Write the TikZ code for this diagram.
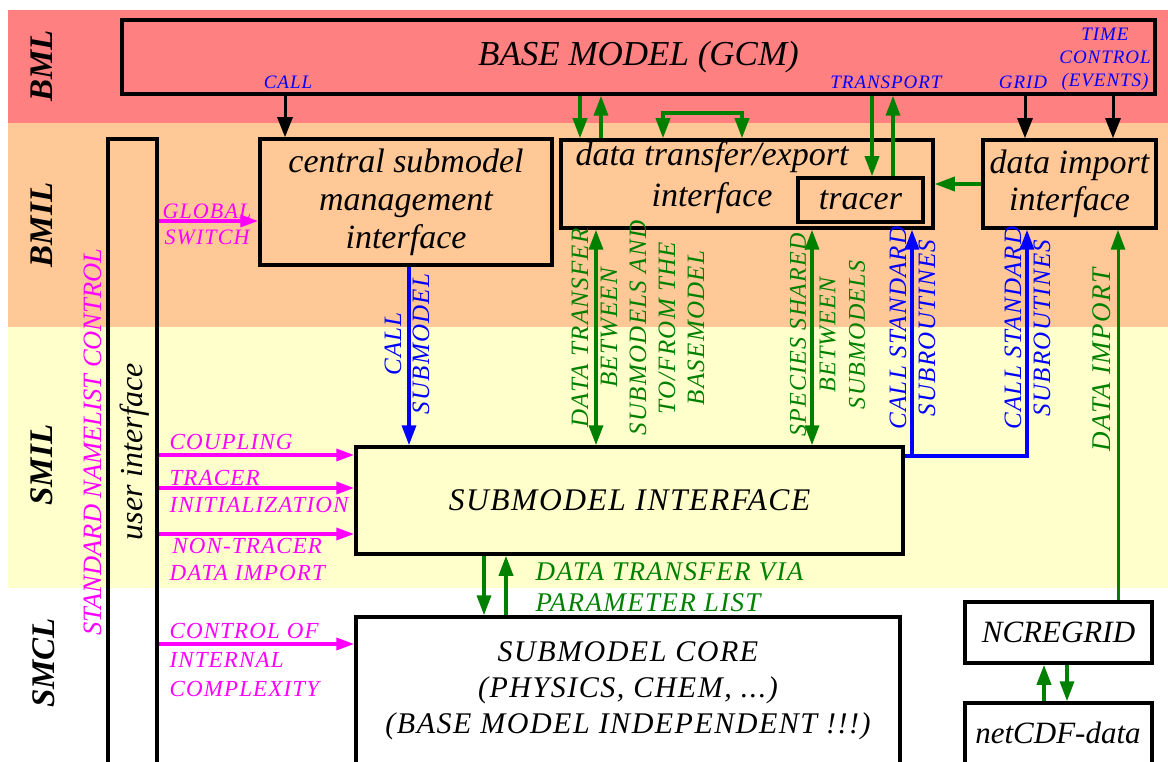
\documentclass[tikz,border=0pt]{standalone}
\usepackage{fontspec}
\setmainfont{Liberation Serif}
\newfontfamily\capsfont[LetterSpace=5]{Liberation Serif}
\usetikzlibrary{arrows.meta}

\definecolor{bmlred}{RGB}{255,128,128}
\definecolor{bmilorange}{RGB}{255,200,150}
\definecolor{smilyellow}{RGB}{255,255,204}
\definecolor{linkgreen}{RGB}{0,128,0}
\definecolor{linkblue}{RGB}{0,0,255}
\definecolor{ctrlmagenta}{RGB}{255,0,255}

\begin{document}
\begin{tikzpicture}[x=1pt,y=-1pt]

% Define styles
\tikzstyle{layername}=[rotate=90, font=\fontsize{33}{40}\selectfont\bfseries\itshape]
\tikzstyle{module}=[draw, line width=3.5pt, inner sep=0pt, align=center, font=\fontsize{34}{38}\selectfont\itshape]
\tikzstyle{modtext}=[align=center, font=\fontsize{34}{38}\selectfont\itshape]
\tikzstyle{smallcaps}=[align=center, font=\capsfont\fontsize{19}{23}\selectfont\itshape, text=linkblue]
\tikzstyle{ctrltext}=[align=left, anchor=west, text=ctrlmagenta, font=\capsfont\fontsize{23}{27}\selectfont\itshape]
\tikzstyle{flowtext}=[align=center, rotate=90, font=\capsfont\fontsize{25}{29}\selectfont\itshape]
\tikzstyle{blkflow}=[line width=3pt, -{Triangle[length=20pt,width=15pt]}]
\tikzstyle{grnflow}=[linkgreen, line width=3.5pt, -{Triangle[length=20pt,width=14pt]}]
\tikzstyle{grnboth}=[grnflow, {Triangle[length=20pt,width=14pt]}-{Triangle[length=20pt,width=14pt]}]
\tikzstyle{bluflow}=[linkblue, line width=3.5pt, -{Triangle[length=20pt,width=14pt]}]
\tikzstyle{magflow}=[ctrlmagenta, line width=3.5pt, -{Triangle[length=18pt,width=12pt]}]

% Parameters
\def\bandleft{8}
\def\bandright{1168}

\useasboundingbox (0,0) rectangle (1168,762);

% Layer bands
\fill[bmlred] (\bandleft,10) rectangle (\bandright,123);
\fill[bmilorange] (\bandleft,123) rectangle (\bandright,327);
\fill[smilyellow] (\bandleft,327) rectangle (\bandright,588);

\node[layername] (bmllbl) at (42,66) {BML};
\node[layername] (bmillbl) at (42,225) {BMIL};
\node[layername] (smillbl) at (42,465) {SMIL};
\node[layername] (smcllbl) at (44,663) {SMCL};

% Modules
\node[module, minimum width=1033pt, minimum height=74pt, font=\fontsize{35}{40}\selectfont\itshape] (base) at (638.5,57) {BASE MODEL (GCM)};
\node[module, minimum width=292pt, minimum height=126pt] (central) at (406,202) {central submodel\\management\\interface};
\node[module, minimum width=372pt, minimum height=88pt] (datatr) at (747,184) {};
\node[modtext, font=\fontsize{34}{41}\selectfont\itshape] (datatrtxt) at (712,178) {data transfer/export\\interface};
\node[module, minimum width=125pt, minimum height=44pt] (tracer) at (860.5,200) {tracer};
\node[module, minimum width=173pt, minimum height=88pt, font=\fontsize{34}{37}\selectfont\itshape] (dataimp) at (1069.5,184) {data import\\interface};
\node[module, minimum width=49pt, minimum height=641pt] (ui) at (132.5,459.5) {};
\node[modtext, rotate=90, font=\fontsize{32}{38}\selectfont\itshape] (uitxt) at (135,452) {user interface};
\node[module, minimum width=547pt, minimum height=107pt, font=\capsfont\fontsize{31.5}{36}\selectfont\itshape] (smi) at (629.5,500.5) {SUBMODEL INTERFACE};
\node[module, minimum width=544pt, minimum height=163pt] (smc) at (628,698.5) {};
\node[modtext, font=\capsfont\fontsize{30}{36}\selectfont\itshape] (smctxt) at (628,691) {SUBMODEL CORE\\(PHYSICS, CHEM, ...)\\(BASE MODEL INDEPENDENT !!!)};
\node[module, minimum width=187pt, minimum height=61pt, font=\fontsize{31}{37}\selectfont\itshape] (ncregrid) at (1058.5,632.5) {NCREGRID};
\node[module, minimum width=187pt, minimum height=90pt] (netcdf) at (1058.5,748) {};
\node[modtext, font=\fontsize{31}{37}\selectfont\itshape] (netcdftxt) at (1058,733) {netCDF-data};

% Labels on the base model
\node[smallcaps] (calllbl) at (288,82) {CALL};
\node[smallcaps] (transportlbl) at (886,82) {TRANSPORT};
\node[smallcaps] (gridlbl) at (1023,82) {GRID};
\node[smallcaps] (timelbl) at (1105,59) {TIME\\CONTROL\\(EVENTS)};

% Base model links
\draw[blkflow] (base.south -| 285,0) -- (central.north -| 285,0);
\draw[grnflow] (base.south -| 580,0) -- (datatr.north -| 580,0);
\draw[grnflow] (datatr.north -| 601,0) -- (base.south -| 601,0);
\draw[grnboth] (datatr.north -| 663,0) |- (742,113) -- (datatr.north -| 742,0);
\draw[grnflow] (base.south -| 872,0) -- (tracer.north -| 872,0);
\draw[grnflow] (tracer.north -| 893,0) -- (base.south -| 893,0);
\draw[blkflow] (base.south -| 1025,0) -- (dataimp.north -| 1025,0);
\draw[blkflow] (base.south -| 1113,0) -- (dataimp.north -| 1113,0);
\draw[grnflow] (dataimp.west) -- (datatr.east);

% Interface layer links
\draw[bluflow] (central.south -| 409,0) -- (smi.north -| 409,0);
\draw[grnboth] (datatr.south -| 596,0) -- (smi.north -| 596,0);
\draw[grnboth] (datatr.south -| 812,0) -- (smi.north -| 812,0);
\draw[bluflow] (smi.east |- 0,456) -| (datatr.south -| 912,0);
\draw[bluflow] (smi.east |- 0,456) -| (dataimp.south -| 1027,0);
\draw[grnflow, line width=3pt] (ncregrid.north -| 1118,0) -- (dataimp.south -| 1118,0);
\draw[grnflow] (smi.south -| 484,0) -- (smc.north -| 484,0);
\draw[grnflow] (smc.north -| 506,0) -- (smi.south -| 506,0);
\draw[grnflow] (netcdf.north -| 1044,0) -- (ncregrid.south -| 1044,0);
\draw[grnflow] (ncregrid.south -| 1067,0) -- (netcdf.north -| 1067,0);

\node[flowtext, text=linkblue, font=\capsfont\fontsize{25}{28}\selectfont\itshape] (callsublbl) at (407,344) {CALL\\SUBMODEL};
\node[flowtext, text=linkgreen] (dtlbl) at (638,328) {DATA TRANSFER\\BETWEEN\\SUBMODELS AND\\TO/FROM THE\\BASEMODEL};
\node[flowtext, text=linkgreen, font=\capsfont\fontsize{24}{29.5}\selectfont\itshape] (specieslbl) at (827.5,335) {SPECIES SHARED\\BETWEEN\\SUBMODELS};
\node[flowtext, text=linkblue] (css1lbl) at (912.5,328) {CALL STANDARD\\SUBROUTINES};
\node[flowtext, text=linkblue] (css2lbl) at (1027.5,328) {CALL STANDARD\\SUBROUTINES};
\node[flowtext, text=linkgreen, font=\capsfont\fontsize{27}{30}\selectfont\itshape] (dimplbl) at (1102,360) {DATA IMPORT};
\node[align=left, anchor=west, text=linkgreen, font=\capsfont\fontsize{27}{31}\selectfont\itshape] (dtvialbl) at (532,587.5) {DATA TRANSFER VIA\\PARAMETER LIST};

% User control
\node[rotate=90, text=ctrlmagenta, font=\fontsize{26.5}{30}\selectfont\itshape] (namelistlbl) at (93,442) {STANDARD NAMELIST CONTROL};
\node[ctrltext, anchor=center, align=center, font=\capsfont\fontsize{22}{26}\selectfont\itshape] (globallbl) at (207,224) {GLOBAL\\SWITCH};
\node[ctrltext] (couplinglbl) at (166,442) {COUPLING};
\node[ctrltext] (tracerlbl) at (166,491.5) {TRACER\\INITIALIZATION};
\node[ctrltext, align=center] (nontracerlbl) at (166,559.5) {NON-TRACER\\DATA IMPORT};
\node[ctrltext, font=\capsfont\fontsize{23}{29}\selectfont\itshape] (controllbl) at (166,660) {CONTROL OF\\INTERNAL\\COMPLEXITY};

\draw[magflow] (ui.east |- 0,221) -- (central.west |- 0,221);
\draw[magflow] (ui.east |- 0,455) -- (smi.west |- 0,455);
\draw[magflow] (ui.east |- 0,488) -- (smi.west |- 0,488);
\draw[magflow] (ui.east |- 0,534) -- (smi.west |- 0,534);
\draw[magflow] (ui.east |- 0,644) -- (smc.west |- 0,644);

\end{tikzpicture}
\end{document}
